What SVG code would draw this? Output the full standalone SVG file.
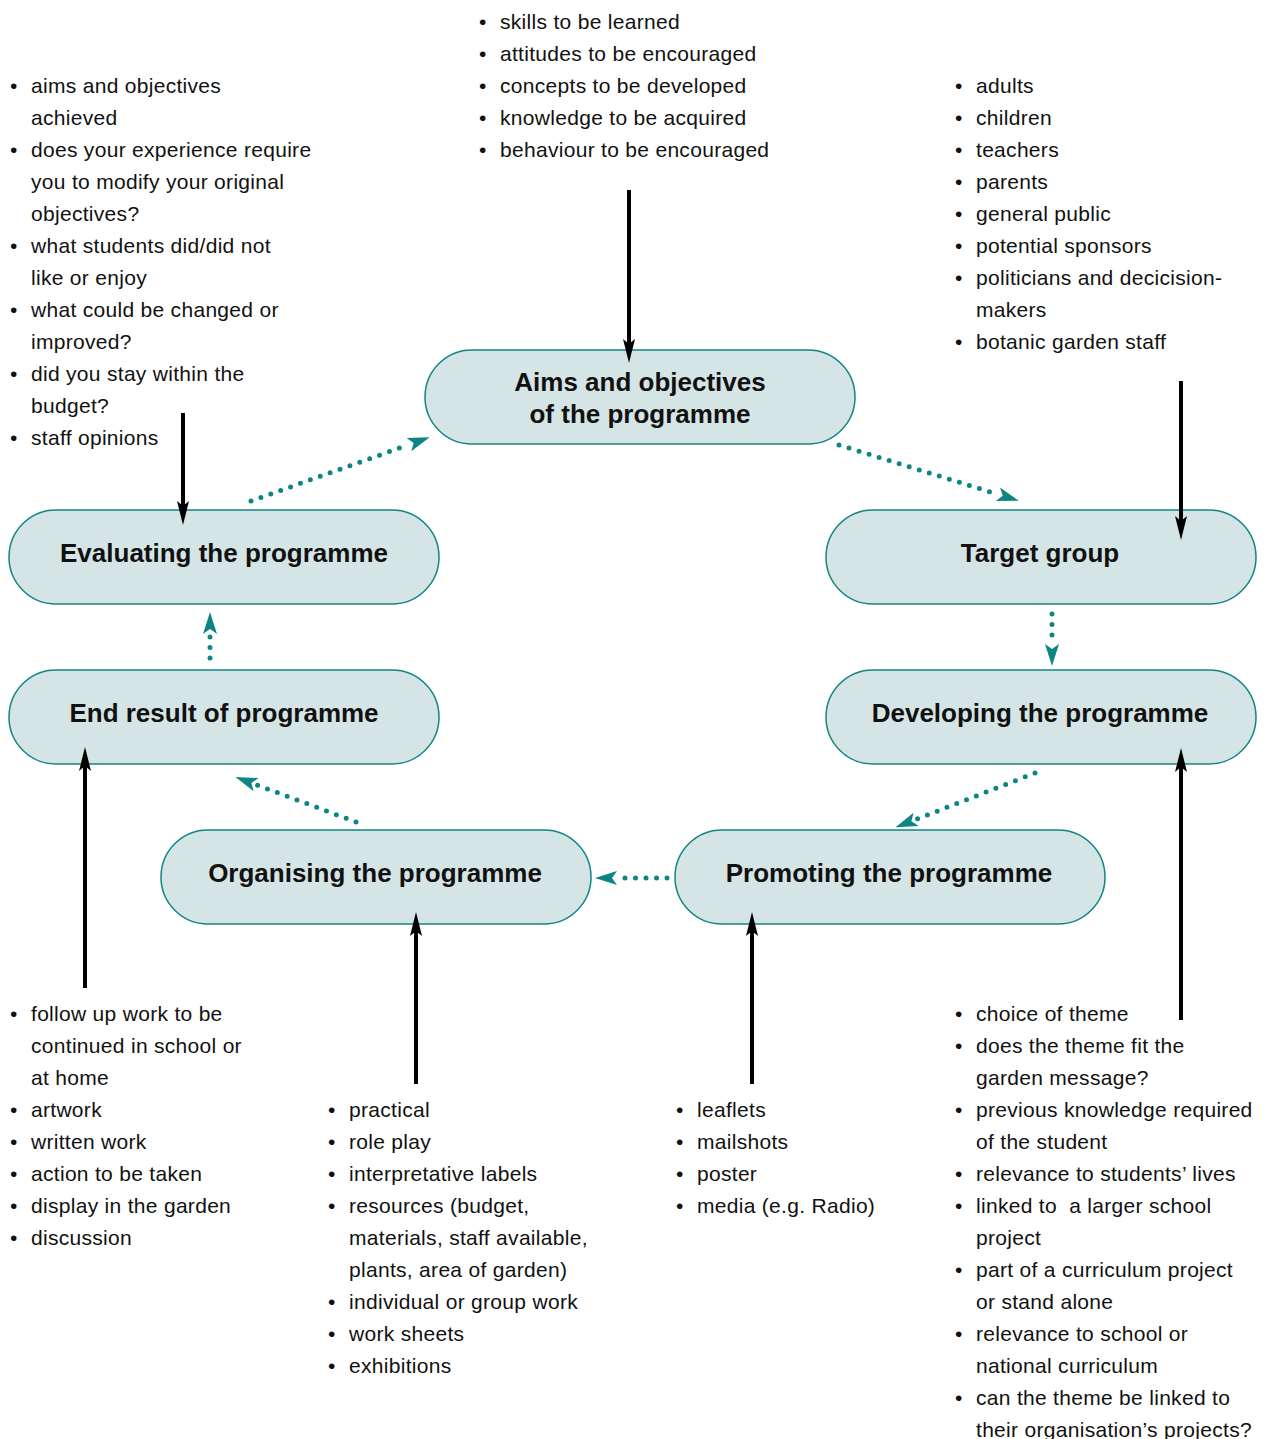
<svg xmlns="http://www.w3.org/2000/svg" width="1269" height="1439" viewBox="0 0 1269 1439">
<style>
.node rect{fill:#d5e5e5;stroke:#118585;stroke-width:1.5}
.node text{font-family:"Liberation Sans",Arial,sans-serif;font-weight:bold;font-size:26px;fill:#111;text-anchor:middle}
.list text{font-family:"Liberation Sans",Arial,sans-serif;font-size:21px;letter-spacing:0.3px;fill:#111}
.solid{stroke:#000;stroke-width:4;fill:none;marker-end:url(#ab)}
.dot{stroke:#0e8585;stroke-width:5;fill:none;stroke-linecap:round;stroke-dasharray:0 10.5;marker-end:url(#at)}
</style>
<defs>
<marker id="ab" markerUnits="userSpaceOnUse" viewBox="0 0 24 12" markerWidth="24" markerHeight="12" refX="14" refY="6" orient="auto">
<path d="M24,6 L0,0 L5,6 L0,12 Z" fill="#000"/>
</marker>
<marker id="at" markerUnits="userSpaceOnUse" viewBox="-2 0 24 14" markerWidth="24" markerHeight="14" refX="-1" refY="7" orient="auto">
<path d="M22,7 L0,0 L5,7 L0,14 Z" fill="#0e8585"/>
</marker>
</defs>
<rect width="1269" height="1439" fill="#fff"/>

<g id="node-aims" class="node">
<rect x="425" y="350" width="430" height="94" rx="47"/>
<text x="640" y="391">Aims and objectives</text>
<text x="640" y="423">of the programme</text>
</g>
<g id="node-evaluating" class="node">
<rect x="9" y="510" width="430" height="94" rx="47"/>
<text x="224" y="562">Evaluating the programme</text>
</g>
<g id="node-target" class="node">
<rect x="826" y="510" width="430" height="94" rx="47"/>
<text x="1040" y="562">Target group</text>
</g>
<g id="node-endresult" class="node">
<rect x="9" y="670" width="430" height="94" rx="47"/>
<text x="224" y="722">End result of programme</text>
</g>
<g id="node-developing" class="node">
<rect x="826" y="670" width="430" height="94" rx="47"/>
<text x="1040" y="722">Developing the programme</text>
</g>
<g id="node-organising" class="node">
<rect x="161" y="830" width="430" height="94" rx="47"/>
<text x="375" y="882">Organising the programme</text>
</g>
<g id="node-promoting" class="node">
<rect x="675" y="830" width="430" height="94" rx="47"/>
<text x="889" y="882">Promoting the programme</text>
</g>

<g id="connectors">
<line class="solid" x1="629" y1="190" x2="629" y2="353"/>
<line class="solid" x1="183" y1="413" x2="183" y2="515"/>
<line class="solid" x1="1181" y1="381" x2="1181" y2="530"/>
<line class="solid" x1="85" y1="988" x2="85" y2="757"/>
<line class="solid" x1="416" y1="1084" x2="416" y2="922"/>
<line class="solid" x1="752" y1="1084" x2="752" y2="922"/>
<line class="solid" x1="1181" y1="1020" x2="1181" y2="758"/>
<line class="dot" x1="251" y1="501" x2="408" y2="445"/>
<line class="dot" x1="839" y1="445" x2="997" y2="494"/>
<line class="dot" x1="1052" y1="614" x2="1052" y2="643"/>
<line class="dot" x1="1035" y1="773" x2="917" y2="819"/>
<line class="dot" x1="667" y1="878" x2="618" y2="878"/>
<line class="dot" x1="356" y1="822" x2="257" y2="785"/>
<line class="dot" x1="210" y1="658" x2="210" y2="635"/>
</g>

<g id="list-aims" class="list">
<text x="479" y="29">•</text><text x="500" y="29">skills to be learned</text>
<text x="479" y="61">•</text><text x="500" y="61">attitudes to be encouraged</text>
<text x="479" y="93">•</text><text x="500" y="93">concepts to be developed</text>
<text x="479" y="125">•</text><text x="500" y="125">knowledge to be acquired</text>
<text x="479" y="157">•</text><text x="500" y="157">behaviour to be encouraged</text>
</g>

<g id="list-evaluating" class="list">
<text x="10" y="93">•</text><text x="31" y="93">aims and objectives</text>
<text x="31" y="125">achieved</text>
<text x="10" y="157">•</text><text x="31" y="157">does your experience require</text>
<text x="31" y="189">you to modify your original</text>
<text x="31" y="221">objectives?</text>
<text x="10" y="253">•</text><text x="31" y="253">what students did/did not</text>
<text x="31" y="285">like or enjoy</text>
<text x="10" y="317">•</text><text x="31" y="317">what could be changed or</text>
<text x="31" y="349">improved?</text>
<text x="10" y="381">•</text><text x="31" y="381">did you stay within the</text>
<text x="31" y="413">budget?</text>
<text x="10" y="445">•</text><text x="31" y="445">staff opinions</text>
</g>

<g id="list-target" class="list">
<text x="955" y="93">•</text><text x="976" y="93">adults</text>
<text x="955" y="125">•</text><text x="976" y="125">children</text>
<text x="955" y="157">•</text><text x="976" y="157">teachers</text>
<text x="955" y="189">•</text><text x="976" y="189">parents</text>
<text x="955" y="221">•</text><text x="976" y="221">general public</text>
<text x="955" y="253">•</text><text x="976" y="253">potential sponsors</text>
<text x="955" y="285">•</text><text x="976" y="285">politicians and decicision-</text>
<text x="976" y="317">makers</text>
<text x="955" y="349">•</text><text x="976" y="349">botanic garden staff</text>
</g>

<g id="list-endresult" class="list">
<text x="10" y="1021">•</text><text x="31" y="1021">follow up work to be</text>
<text x="31" y="1053">continued in school or</text>
<text x="31" y="1085">at home</text>
<text x="10" y="1117">•</text><text x="31" y="1117">artwork</text>
<text x="10" y="1149">•</text><text x="31" y="1149">written work</text>
<text x="10" y="1181">•</text><text x="31" y="1181">action to be taken</text>
<text x="10" y="1213">•</text><text x="31" y="1213">display in the garden</text>
<text x="10" y="1245">•</text><text x="31" y="1245">discussion</text>
</g>

<g id="list-organising" class="list">
<text x="328" y="1117">•</text><text x="349" y="1117">practical</text>
<text x="328" y="1149">•</text><text x="349" y="1149">role play</text>
<text x="328" y="1181">•</text><text x="349" y="1181">interpretative labels</text>
<text x="328" y="1213">•</text><text x="349" y="1213">resources (budget,</text>
<text x="349" y="1245">materials, staff available,</text>
<text x="349" y="1277">plants, area of garden)</text>
<text x="328" y="1309">•</text><text x="349" y="1309">individual or group work</text>
<text x="328" y="1341">•</text><text x="349" y="1341">work sheets</text>
<text x="328" y="1373">•</text><text x="349" y="1373">exhibitions</text>
</g>

<g id="list-promoting" class="list">
<text x="676" y="1117">•</text><text x="697" y="1117">leaflets</text>
<text x="676" y="1149">•</text><text x="697" y="1149">mailshots</text>
<text x="676" y="1181">•</text><text x="697" y="1181">poster</text>
<text x="676" y="1213">•</text><text x="697" y="1213">media (e.g. Radio)</text>
</g>

<g id="list-developing" class="list">
<text x="955" y="1021">•</text><text x="976" y="1021">choice of theme</text>
<text x="955" y="1053">•</text><text x="976" y="1053">does the theme fit the</text>
<text x="976" y="1085">garden message?</text>
<text x="955" y="1117">•</text><text x="976" y="1117">previous knowledge required</text>
<text x="976" y="1149">of the student</text>
<text x="955" y="1181">•</text><text x="976" y="1181">relevance to students’ lives</text>
<text x="955" y="1213">•</text><text x="976" y="1213" style="white-space:pre">linked to  a larger school</text>
<text x="976" y="1245">project</text>
<text x="955" y="1277">•</text><text x="976" y="1277">part of a curriculum project</text>
<text x="976" y="1309">or stand alone</text>
<text x="955" y="1341">•</text><text x="976" y="1341">relevance to school or</text>
<text x="976" y="1373">national curriculum</text>
<text x="955" y="1405">•</text><text x="976" y="1405">can the theme be linked to</text>
<text x="976" y="1437">their organisation’s projects?</text>
</g>
</svg>
